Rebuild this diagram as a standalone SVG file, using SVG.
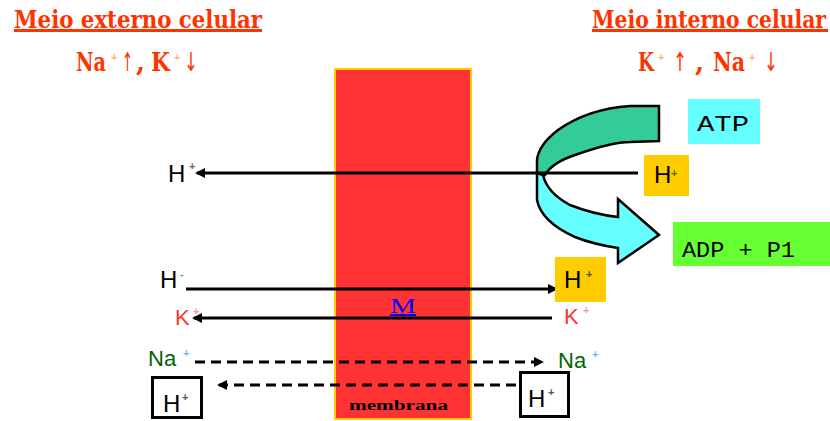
<svg xmlns="http://www.w3.org/2000/svg" width="830" height="421" viewBox="0 0 830 421">
<style>
.title{font-family:"DejaVu Serif","Liberation Serif",serif;font-weight:bold;font-size:24px;fill:#FF3300}
.ion{font-family:"DejaVu Serif","Liberation Serif",serif;font-weight:bold;font-size:26px;fill:#FF3300}
.arr{font-family:"DejaVu Sans",sans-serif;font-size:26px;fill:#FF3300}
.sans{font-family:"Liberation Sans",Arial,sans-serif;font-size:24px}
.k{fill:#FF3333;font-size:22px}
.na{fill:#006600;font-size:22px}
.sup{font-family:"Liberation Sans",Arial,sans-serif;font-size:11px;font-weight:bold}
.so{fill:#FFB070}
.mono{font-family:"Liberation Mono","DejaVu Sans Mono",monospace;font-size:22px;fill:#000}
.conn{stroke:#000;stroke-width:3;fill:none}
.dash{stroke-dasharray:10 6}
.box{stroke:#000;stroke-width:3;fill:#fff}
</style>
<defs>
<marker id="ah" viewBox="0 0 10 10" refX="8" refY="5" markerWidth="10" markerHeight="10" markerUnits="userSpaceOnUse" orient="auto">
<path d="M0,0 L10,5 L0,10 z" fill="#000"/>
</marker>
</defs>
<rect width="830" height="421" fill="#fff"/>

<g id="membrane">
<rect x="335" y="69" width="136" height="350" fill="#FF3333" stroke="#FFCC00" stroke-width="2"/>
<text x="349" y="410" font-family="'Liberation Serif',serif" font-weight="bold" font-size="14" textLength="99" lengthAdjust="spacingAndGlyphs">membrana</text>
</g>

<g id="title-ext">
<text class="title" x="14" y="28" textLength="248" lengthAdjust="spacingAndGlyphs">Meio externo  celular</text>
<rect x="14" y="29" width="248" height="3" fill="#FF3300"/>
<text class="ion" x="76" y="71" textLength="30" lengthAdjust="spacingAndGlyphs">Na</text>
<text class="sup so" x="111" y="61">+</text>
<text class="arr" x="122" y="71" textLength="11" lengthAdjust="spacingAndGlyphs">↑</text>
<text class="ion" x="136" y="71">,</text>
<text class="ion" x="151" y="71" textLength="19" lengthAdjust="spacingAndGlyphs">K</text>
<text class="sup so" x="174" y="61">+</text>
<text class="arr" x="184" y="71" textLength="14" lengthAdjust="spacingAndGlyphs">↓</text>
</g>

<g id="title-int">
<text class="title" x="592" y="28" textLength="234" lengthAdjust="spacingAndGlyphs">Meio interno celular</text>
<rect x="592" y="29" width="236" height="3" fill="#FF3300"/>
<text class="ion" x="638" y="71" textLength="16" lengthAdjust="spacingAndGlyphs">K</text>
<text class="sup so" x="658" y="61">+</text>
<text class="arr" x="673" y="71" textLength="14" lengthAdjust="spacingAndGlyphs">↑</text>
<text class="ion" x="695" y="71">,</text>
<text class="ion" x="713" y="71" textLength="32" lengthAdjust="spacingAndGlyphs">Na</text>
<text class="sup so" x="749" y="61">+</text>
<text class="arr" x="764" y="71" textLength="14" lengthAdjust="spacingAndGlyphs">↓</text>
</g>

<g id="atp-arrow">
<path d="M659,106 L630,106 C600,108 575,118 558,130 C545,140 538,150 537,160 L537,173 L545,175 C550,166 560,160 575,155 C595,148 615,142 630,142 L659,141 Z" fill="#33CC99" stroke="#000" stroke-width="2.5"/>
<path d="M537,173 L537,200 C540,215 555,228 575,237 C590,243 605,246 618,248 L618,263 L659,235 L618,199 L618,217 C600,215 585,211 570,205 C555,197 546,188 543,175 Z" fill="#66FFFF" stroke="#000" stroke-width="2.5"/>
</g>

<g id="atp">
<rect x="688" y="99" width="72" height="45" fill="#66FFFF"/>
<text class="mono" x="697" y="131" textLength="52" lengthAdjust="spacingAndGlyphs">ATP</text>
</g>

<g id="adp">
<rect x="673" y="222" width="157" height="44" fill="#66FF33"/>
<text class="mono" x="682" y="257" textLength="113" lengthAdjust="spacingAndGlyphs">ADP + P1</text>
</g>

<g id="connectors">
<line class="conn" x1="638" y1="173" x2="197" y2="173" marker-end="url(#ah)"/>
<line class="conn" x1="186" y1="289" x2="556" y2="289" marker-end="url(#ah)"/>
<line class="conn" x1="552" y1="318" x2="194" y2="318" marker-end="url(#ah)"/>
<line class="conn dash" x1="195" y1="362" x2="542" y2="362" marker-end="url(#ah)"/>
<line class="conn dash" x1="516" y1="385" x2="219" y2="385" marker-end="url(#ah)"/>
</g>

<g id="h-ext-1">
<text class="sans" x="168" y="182">H</text>
<text class="sup" x="189" y="170" fill="#666">+</text>
</g>

<g id="h-int-1">
<rect x="644" y="155" width="45" height="41" fill="#FFCC00"/>
<text class="sans" x="654" y="183" font-size="17">H</text>
<text class="sup" x="671" y="177" fill="#666600">+</text>
</g>

<g id="m-label">
<text x="390" y="313" font-family="'Liberation Serif',serif" font-size="20" fill="#0000FF" textLength="26" lengthAdjust="spacingAndGlyphs">M</text>
<rect x="390" y="314" width="26" height="2" fill="#0000FF"/>
</g>

<g id="h-ext-2">
<text class="sans" x="160" y="288">H</text>
<text class="sup" x="180" y="278" fill="#888">-</text>
</g>

<g id="h-int-2">
<rect x="555" y="257" width="51" height="45" fill="#FFCC00"/>
<text class="sans" x="564" y="288">H</text>
<text class="sup" x="586" y="278" fill="#555500">+</text>
</g>

<g id="k-ext">
<text class="sans k" x="175" y="325">K</text>
<text class="sup" x="193" y="315" fill="#FF88BB">+</text>
</g>

<g id="k-int">
<text class="sans k" x="564" y="324">K</text>
<text class="sup" x="583" y="314" fill="#FF88BB">+</text>
</g>

<g id="na-ext">
<text class="sans na" x="148" y="366">Na</text>
<text class="sup" x="183" y="357" fill="#66BBEE">+</text>
</g>

<g id="na-int">
<text class="sans na" x="558" y="368">Na</text>
<text class="sup" x="592" y="358" fill="#66BBEE">+</text>
</g>

<g id="h-ext-3">
<rect class="box" x="152.5" y="377.5" width="49" height="40"/>
<text class="sans" x="163" y="412">H</text>
<text class="sup" x="182" y="401" fill="#555">+</text>
</g>

<g id="h-int-3">
<rect class="box" x="520.5" y="372.5" width="48" height="44"/>
<text class="sans" x="528" y="407">H</text>
<text class="sup" x="548" y="396" fill="#555">+</text>
</g>
</svg>
